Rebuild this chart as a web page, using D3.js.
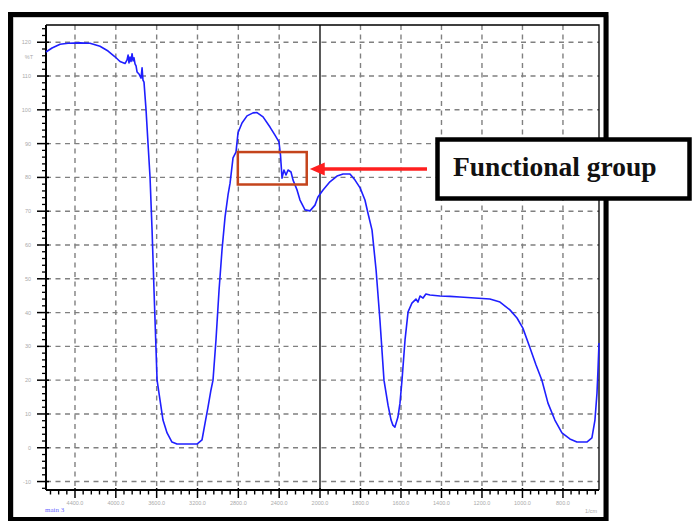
<!DOCTYPE html>
<html>
<head>
<meta charset="utf-8">
<script src="https://cdn.jsdelivr.net/npm/d3@7"></script>
<style>
  html, body { margin: 0; padding: 0; background: #fff; }
  svg { display: block; }
</style>
</head>
<body>
<svg id="chart" width="694" height="521"></svg>
<script>
// FTIR transmittance spectrum: wavenumber (1/cm) vs %T
const wavenumber = [
  4684, 4625, 4546, 4468, 4351, 4253, 4155, 4076, 4008, 3959, 3910,
  3890, 3880, 3871, 3861, 3851, 3841, 3831, 3822, 3812, 3802, 3792,
  3773, 3753, 3743, 3734, 3724, 3704, 3685, 3665, 3645, 3626, 3606,
  3596, 3567, 3538, 3498, 3450, 3401, 3303, 3205, 3156, 3126, 3097,
  3068, 3048, 3019, 2989, 2960, 2930, 2901, 2881, 2852, 2823, 2803,
  2764, 2715, 2656, 2617, 2558, 2490, 2441, 2402, 2387, 2382, 2372,
  2353, 2333, 2313, 2284, 2264, 2225, 2196, 2147, 2098, 2049, 2020,
  1985, 1951, 1916, 1886, 1852, 1827, 1802, 1778, 1763, 1743, 1723,
  1704, 1684, 1664, 1649, 1640, 1630, 1615, 1605, 1595, 1580, 1565,
  1546, 1526, 1516, 1506, 1491, 1477, 1457, 1407, 1358, 1309, 1235,
  1161, 1111, 1062, 1027, 998, 963, 933, 904, 874, 840, 805,
  766, 731, 682, 657, 642, 632, 627, 622
];
const transmittance = [
  117.1, 118.3, 119.4, 119.7, 119.8, 119.7, 118.8, 117.4, 115.7, 114.3, 113.7,
  114.8, 116.2, 113.9, 115.6, 114.3, 116.6, 114.5, 115.4, 113.6, 113.0, 111.2,
  110.6, 109.4, 112.4, 108.8, 108.2, 100.0, 90.2, 80.1, 64.4, 46.6, 28.9,
  20.0, 14.1, 8.2, 4.4, 1.7, 1.1, 1.1, 1.1, 2.3, 7.3, 12.0,
  17.1, 20.0, 31.9, 46.6, 58.5, 68.3, 74.8, 78.3, 85.8, 87.5, 93.2,
  96.1, 98.2, 99.1, 99.2, 97.9, 94.9, 92.5, 90.5, 86.6, 84.3, 79.8,
  82.2, 80.7, 82.2, 81.6, 79.2, 76.3, 73.3, 70.4, 70.1, 71.8, 74.2,
  76.3, 78.7, 80.4, 81.0, 81.0, 79.2, 76.9, 73.3, 69.4, 64.4, 52.6,
  37.8, 20.0, 12.6, 8.2, 6.7, 6.1, 9.1, 13.2, 20.0, 31.9, 40.2,
  42.8, 44.0, 43.1, 44.9, 44.3, 45.5, 45.2, 44.9, 44.8, 44.6, 44.3,
  44.0, 43.1, 40.8, 38.4, 35.4, 29.6, 24.5, 20.0, 13.2, 8.2, 4.4,
  2.6, 1.7, 1.7, 2.9, 8.2, 16.1, 23.0, 31.0
];

// Axis ticks
const xTicks = [4400, 4000, 3600, 3200, 2800, 2400, 2000, 1800, 1600, 1400, 1200, 1000, 800];
const xTickLabels = ["4400.0", "4000.0", "3600.0", "3200.0", "2800.0", "2400.0", "2000.0",
                     "1800.0", "1600.0", "1400.0", "1200.0", "1000.0", "800.0"];
const yTicks = [-10, 0, 10, 20, 30, 40, 50, 60, 70, 80, 90, 100, 110, 120];

// Wavenumber range: expanded scale below 2000 1/cm
const xDomain = [4684, 2000, 622];
const yDomain = [-12.5, 125.1];

// Annotation: highlighted band around the 2350 1/cm feature
const boxWave = [2805, 2130];
const boxT = [87.5, 77.9];
const calloutText = "Functional group";

const svg = d3.select("#chart");
const plot = { left: 46, right: 599, top: 25, bottom: 490 };

const x = d3.scaleLinear().domain(xDomain).range([plot.left, 320, plot.right]);
const y = d3.scaleLinear().domain(yDomain).range([plot.bottom, plot.top]);

// Outer frame
svg.append("rect")
  .attr("x", 12.5).attr("y", 16.5).attr("width", 595).attr("height", 504)
  .attr("fill", "none").attr("stroke", "#999").attr("stroke-width", 2);
svg.append("rect")
  .attr("x", 10.5).attr("y", 14.5).attr("width", 595.5).attr("height", 505)
  .attr("fill", "none").attr("stroke", "#000").attr("stroke-width", 5);

// Grid
const grid = svg.append("g")
  .attr("stroke", "#808080").attr("stroke-width", 1.4)
  .attr("stroke-dasharray", "5,4.5");
grid.selectAll("line.h").data(yTicks).join("line")
  .attr("x1", plot.left).attr("x2", plot.right)
  .attr("y1", d => y(d)).attr("y2", d => y(d));
grid.selectAll("line.v").data(xTicks.filter(d => d !== 2000)).join("line")
  .attr("x1", d => x(d)).attr("x2", d => x(d))
  .attr("y1", plot.top).attr("y2", plot.bottom);

// Scale-change divider at 2000 1/cm
svg.append("line")
  .attr("x1", x(2000)).attr("x2", x(2000))
  .attr("y1", plot.top).attr("y2", plot.bottom)
  .attr("stroke", "#000").attr("stroke-width", 1.3);

// Plot border (top, right)
svg.append("path")
  .attr("d", `M${plot.left},${plot.top}H${plot.right}V${plot.bottom}`)
  .attr("fill", "none").attr("stroke", "#000").attr("stroke-width", 1.3);

// Left axis
const yMinor = d3.range(-12, 126, 2).filter(v => v % 10 !== 0);
const yAxis = svg.append("g");
yAxis.append("line")
  .attr("x1", plot.left).attr("x2", plot.left)
  .attr("y1", plot.top).attr("y2", plot.bottom)
  .attr("stroke", "#000").attr("stroke-width", 2);
yAxis.selectAll("line.minor").data(yMinor).join("line")
  .attr("x1", plot.left - 4).attr("x2", plot.left + 1)
  .attr("y1", d => y(d)).attr("y2", d => y(d))
  .attr("stroke", "#000").attr("stroke-width", 1.3);
yAxis.selectAll("line.major").data(yTicks).join("line")
  .attr("x1", plot.left - 9).attr("x2", plot.left + 3)
  .attr("y1", d => y(d)).attr("y2", d => y(d))
  .attr("stroke", "#000").attr("stroke-width", 1.5);
yAxis.selectAll("text").data(yTicks).join("text")
  .attr("x", 31).attr("y", d => y(d) + 2)
  .attr("text-anchor", "end")
  .attr("font-family", "Liberation Sans, Arial, sans-serif")
  .attr("font-size", 5.5).attr("fill", "#aaa")
  .text(d => d);
yAxis.append("text")
  .attr("x", 33).attr("y", y(115.6) + 2)
  .attr("text-anchor", "end")
  .attr("font-family", "Liberation Sans, Arial, sans-serif")
  .attr("font-size", 5.5).attr("fill", "#aaa")
  .text("%T");

// Bottom axis
const xMinor = d3.range(4640, 2000, -80).concat(d3.range(1960, 620, -40))
  .filter(v => !xTicks.includes(v));
const xAxis = svg.append("g");
xAxis.append("line")
  .attr("x1", plot.left).attr("x2", plot.right)
  .attr("y1", plot.bottom).attr("y2", plot.bottom)
  .attr("stroke", "#000").attr("stroke-width", 2);
xAxis.selectAll("line.minor").data(xMinor).join("line")
  .attr("x1", d => x(d)).attr("x2", d => x(d))
  .attr("y1", plot.bottom).attr("y2", plot.bottom + 4.5)
  .attr("stroke", "#000").attr("stroke-width", 1.4);
xAxis.selectAll("line.major").data(xTicks).join("line")
  .attr("x1", d => x(d)).attr("x2", d => x(d))
  .attr("y1", plot.bottom - 2).attr("y2", plot.bottom + 8)
  .attr("stroke", "#000").attr("stroke-width", 1.5);
xAxis.selectAll("text").data(xTicks).join("text")
  .attr("x", d => x(d)).attr("y", 505)
  .attr("text-anchor", "middle")
  .attr("font-family", "Liberation Sans, Arial, sans-serif")
  .attr("font-size", 5.5).attr("fill", "#aaa")
  .text((d, i) => xTickLabels[i]);
xAxis.append("text")
  .attr("x", 597).attr("y", 513)
  .attr("text-anchor", "end")
  .attr("font-family", "Liberation Sans, Arial, sans-serif")
  .attr("font-size", 5.5).attr("fill", "#aaa")
  .text("1/cm");
svg.append("text")
  .attr("x", 45).attr("y", 512)
  .attr("font-family", "Liberation Serif, Times New Roman, serif")
  .attr("font-size", 7).attr("fill", "#6a6aff")
  .text("main 3");

// Spectrum trace
const points = wavenumber.map((w, i) => [w, transmittance[i]]);
svg.append("path")
  .datum(points)
  .attr("d", d3.line().x(d => x(d[0])).y(d => y(d[1])))
  .attr("fill", "none").attr("stroke", "#1f1fff")
  .attr("stroke-width", 1.6).attr("stroke-linejoin", "round");

// Highlight box
svg.append("rect")
  .attr("x", x(boxWave[0])).attr("y", y(boxT[0]))
  .attr("width", x(boxWave[1]) - x(boxWave[0]))
  .attr("height", y(boxT[1]) - y(boxT[0]))
  .attr("fill", "none").attr("stroke", "#c4441c").attr("stroke-width", 2.5);

// Callout arrow
const tipX = x(boxWave[1]) + 3, tipY = 169;
svg.append("line")
  .attr("x1", 427).attr("x2", tipX + 14)
  .attr("y1", tipY).attr("y2", tipY)
  .attr("stroke", "#ff1f1f").attr("stroke-width", 3.5);
svg.append("path")
  .attr("d", `M${tipX},${tipY}L${tipX + 15},${tipY - 6.5}L${tipX + 15},${tipY + 6.5}Z`)
  .attr("fill", "#ff1f1f");

// Callout label box
svg.append("rect")
  .attr("x", 437.5).attr("y", 139.5).attr("width", 252).attr("height", 59)
  .attr("fill", "#fff").attr("stroke", "#000").attr("stroke-width", 4.5);
svg.append("text")
  .attr("x", 453).attr("y", 176)
  .attr("font-family", "Liberation Serif, Times New Roman, serif")
  .attr("font-weight", "bold").attr("font-size", 27.5)
  .attr("fill", "#111")
  .text(calloutText);
</script>
</body>
</html>
